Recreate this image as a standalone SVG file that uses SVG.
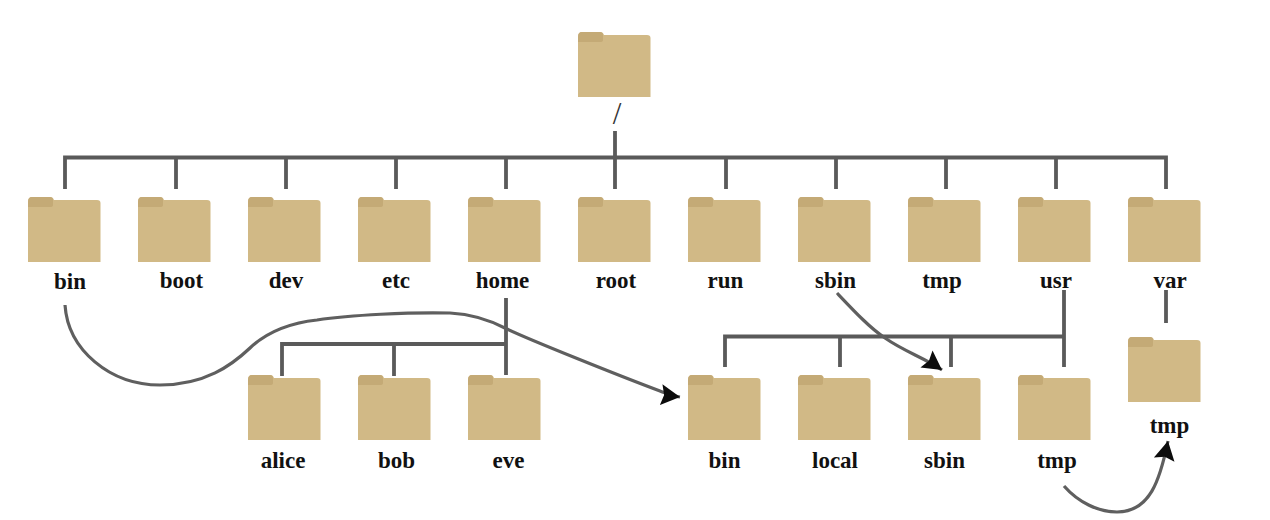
<svg xmlns="http://www.w3.org/2000/svg" width="1270" height="520" viewBox="0 0 1270 520">
<style>
.label{font-family:"Liberation Serif","Times New Roman",serif;font-weight:700;font-size:23px;fill:#111;text-anchor:middle}
.slash{font-family:"Liberation Serif","Times New Roman",serif;font-size:31px;fill:#333;text-anchor:middle}
.tree{fill:none;stroke:#5a5a5a;stroke-width:3.8}
.link{fill:none;stroke:#5f5f5f;stroke-width:3.2}
</style>
<defs>
<g id="folder">
<path d="M0 65V5Q0 0 4 0H22Q25 0 26 3H69Q72.500 3 72.500 6V65Z" fill="#d1b986"/>
<path d="M0 10V5Q0 0 4 0H22Q25 0 25 3V8Q25 10 22 10Z" fill="#c4aa76"/>
</g>
<marker id="arrow" markerUnits="userSpaceOnUse" markerWidth="24" markerHeight="24" refX="19" refY="12" orient="auto">
<path d="M0 1.500L19 12L0 22.500L3 12Z" fill="#0c0c0c"/>
</marker>
</defs>
<rect width="1270" height="520" fill="#fff"/>
<g id="connectors">
<path class="tree" d="M65 189V157.500H1166V189M176 157.500V189M286 157.500V189M396 157.500V189M506 157.500V189M615 131V189M726 157.500V189M836 157.500V189M946 157.500V189M1056 157.500V189"/>
<path class="tree" d="M506 298V375M282 376V344H506M394 344V376"/>
<path class="tree" d="M1064 290V367M725 367V336.500H1064M840 336.500V367M951 336.500V367"/>
<path class="tree" d="M1166 290V323"/>
<path class="link" d="M65 305C68 350 110 385 160 385C205 385 232 365 250 348C268 331 290 323 317 320C350 315 410 312 450 313C470 314 490 320 507 329C530 340 620 376 660 391C668 394 672 396 680 397" marker-end="url(#arrow)"/>
<path class="link" d="M837 293C855 312 870 328 885 338C905 352 925 358 942 370" marker-end="url(#arrow)"/>
<path class="link" d="M1064 486C1078 502 1098 512 1117 512C1150 512 1160 480 1168 441" marker-end="url(#arrow)"/>
</g>
<g id="root"><use href="#folder" x="578" y="32"/><text class="slash" x="617" y="124">/</text></g>
<g id="bin"><use href="#folder" x="28" y="197"/><text class="label" x="70" y="289">bin</text></g>
<g id="boot"><use href="#folder" x="138" y="197"/><text class="label" x="181.500" y="288">boot</text></g>
<g id="dev"><use href="#folder" x="248" y="197"/><text class="label" x="286" y="288">dev</text></g>
<g id="etc"><use href="#folder" x="358" y="197"/><text class="label" x="396" y="288">etc</text></g>
<g id="home"><use href="#folder" x="468" y="197"/><text class="label" x="502.500" y="288">home</text></g>
<g id="rootdir"><use href="#folder" x="578" y="197"/><text class="label" x="616" y="288">root</text></g>
<g id="run"><use href="#folder" x="688" y="197"/><text class="label" x="725.500" y="288">run</text></g>
<g id="sbin"><use href="#folder" x="798" y="197"/><text class="label" x="835.500" y="288">sbin</text></g>
<g id="tmp"><use href="#folder" x="908" y="197"/><text class="label" x="942" y="288">tmp</text></g>
<g id="usr"><use href="#folder" x="1018" y="197"/><text class="label" x="1056" y="288">usr</text></g>
<g id="var"><use href="#folder" x="1128" y="197"/><text class="label" x="1170" y="288">var</text></g>
<g id="alice"><use href="#folder" x="248" y="375"/><text class="label" x="283" y="468">alice</text></g>
<g id="bob"><use href="#folder" x="358" y="375"/><text class="label" x="396.500" y="468">bob</text></g>
<g id="eve"><use href="#folder" x="468" y="375"/><text class="label" x="508.500" y="468">eve</text></g>
<g id="usr-bin"><use href="#folder" x="688" y="375"/><text class="label" x="724.500" y="468">bin</text></g>
<g id="usr-local"><use href="#folder" x="798" y="375"/><text class="label" x="835" y="468">local</text></g>
<g id="usr-sbin"><use href="#folder" x="908" y="375"/><text class="label" x="944.500" y="468">sbin</text></g>
<g id="usr-tmp"><use href="#folder" x="1018" y="375"/><text class="label" x="1057" y="468">tmp</text></g>
<g id="var-tmp"><use href="#folder" x="1128" y="337"/><text class="label" x="1169.500" y="433">tmp</text></g>
</svg>
